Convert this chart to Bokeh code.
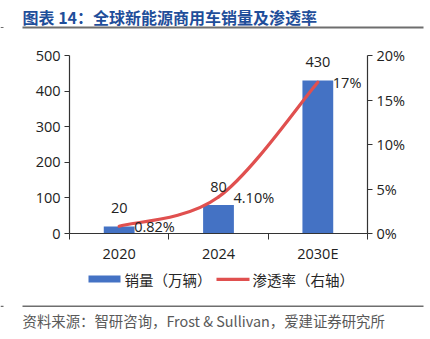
from bokeh.plotting import figure
from bokeh.models import (Range1d, LinearAxis, FixedTicker, PrintfTickFormatter,
                          ColumnDataSource)
from bokeh.core.properties import value
from bokeh.embed import file_html
from bokeh.resources import INLINE

# ---- data ----
categories = ["2020", "2024", "2030E"]
sales = [20, 80, 430]              # 万辆
penetration = [0.82, 4.10, 17.0]   # %
sales_labels = ["20", "80", "430"]
pen_labels = ["0.82%", "4.10%", "17%"]
left_ticks = [0, 100, 200, 300, 400, 500]
right_ticks = [0, 5, 10, 15, 20]
title_text = "图表 14：全球新能源商用车销量及渗透率"
source_text = "资料来源：智研咨询，Frost & Sullivan，爱建证券研究所"
legend_bar = "销量（万辆）"
legend_line = "渗透率（右轴）"

# ---- layout / style ----
W, H = 430, 339
PLOT_L, PLOT_R, PLOT_T, PLOT_B = 69, 367, 55, 233   # plot area in pixels
SALES_MAX, PCT_MAX = 500, 20
FONT = "Noto Sans CJK SC"
NUMFONT = "Open Sans"
BLUE = "#4472C4"
RED = "#E0504F"
AXIS = "#333333"
RULE = "#6E6E6E"

ncat = len(categories)
xs = [i + 0.5 for i in range(ncat)]


def span(lo_val, hi_val, lo_px, hi_px, full_px):
    """Range whose lo_val..hi_val falls on lo_px..hi_px of a 0..full_px frame."""
    k = (hi_val - lo_val) / (hi_px - lo_px)
    return Range1d(lo_val - lo_px * k, hi_val + (full_px - hi_px) * k)


# frame covers the whole canvas; axes are pinned with fixed_location
x_rng = span(0, ncat, PLOT_L, PLOT_R, W)
y_rng = span(0, SALES_MAX, H - PLOT_B, H - PLOT_T, H)
p = figure(width=W, height=H, output_backend="svg", toolbar_location=None,
           x_range=x_rng, y_range=y_rng, min_border=0,
           background_fill_color="white", border_fill_color="white",
           outline_line_color=None)
p.grid.visible = False
p.extra_y_ranges = {"pct": span(0, PCT_MAX, H - PLOT_B, H - PLOT_T, H),
                    "px": Range1d(H, 0)}
p.extra_x_ranges = {"px": Range1d(0, W)}

src = ColumnDataSource(dict(x=xs, sales=sales, pen=penetration,
                            sl=sales_labels, pl=pen_labels))

p.vbar(x="x", top="sales", width=0.31, source=src, fill_color=BLUE, line_color=None)

# smoothed line (Catmull-Rom -> Bezier) through the penetration points
pts = list(zip(xs, penetration))
x0s, y0s, x1s, y1s, cx0, cy0, cx1, cy1 = [], [], [], [], [], [], [], []
n = len(pts)
for i in range(n - 1):
    pm = pts[max(i - 1, 0)]
    pa = pts[i]
    pb = pts[i + 1]
    pn = pts[min(i + 2, n - 1)]
    x0s.append(pa[0]); y0s.append(pa[1]); x1s.append(pb[0]); y1s.append(pb[1])
    cx0.append(pa[0] + (pb[0] - pm[0]) / 6); cy0.append(pa[1] + (pb[1] - pm[1]) / 6)
    cx1.append(pb[0] - (pn[0] - pa[0]) / 6); cy1.append(pb[1] - (pn[1] - pa[1]) / 6)
p.bezier(x0=x0s, y0=y0s, x1=x1s, y1=y1s, cx0=cx0, cy0=cy0, cx1=cx1, cy1=cy1,
         y_range_name="pct", line_color=RED, line_width=3.2, line_cap="round")

p.text(x="x", y="sales", text="sl", source=src, text_align="center",
       text_baseline="middle", y_offset=-18, text_font=value(NUMFONT),
       text_font_size="14.5px", text_color="#222222")
p.text(x="x", y="pen", text="pl", source=src, y_range_name="pct",
       text_align="left", text_baseline="middle", x_offset=15, y_offset=0,
       text_font=value(NUMFONT), text_font_size="14.5px", text_color="#222222")


def style_axis(ax):
    ax.axis_line_color = AXIS
    ax.axis_line_width = 1.2
    ax.major_tick_line_color = AXIS
    ax.major_tick_in = 0
    ax.major_tick_out = 5
    ax.minor_tick_line_color = None
    ax.major_label_text_font = NUMFONT
    ax.major_label_text_font_size = "14.5px"
    ax.major_label_text_color = "#222222"
    ax.major_label_standoff = 4


yl = p.yaxis[0]
yl.ticker = FixedTicker(ticks=left_ticks)
yl.fixed_location = 0
yl.bounds = (0, SALES_MAX)
style_axis(yl)

yr = LinearAxis(y_range_name="pct", ticker=FixedTicker(ticks=right_ticks),
                formatter=PrintfTickFormatter(format="%d%%"),
                fixed_location=ncat, bounds=(0, PCT_MAX))
style_axis(yr)
p.add_layout(yr, "right")

xa = p.xaxis[0]
xa.ticker = FixedTicker(ticks=xs, minor_ticks=list(range(ncat + 1)))
xa.major_label_overrides = {x: c for x, c in zip(xs, categories)}
xa.fixed_location = 0
xa.bounds = (0, ncat)
style_axis(xa)
xa.major_tick_line_color = None
xa.major_tick_out = 0
xa.minor_tick_line_color = AXIS
xa.minor_tick_in = 0
xa.minor_tick_out = 6
xa.major_label_standoff = 4

# ---- title, rules, legend, source (pixel coordinates, y from the top) ----
PX = dict(x_range_name="px", y_range_name="px")
p.text(x=[22], y=[16], text=[title_text], text_font=value(FONT),
       text_font_size="16px", text_font_style="bold", text_color="#1F4E9A",
       text_baseline="middle", **PX)


# horizontal rules, drawn on the default ranges (pixel -> default data units)
def px_x(sx):
    k = (x_rng.end - x_rng.start) / W
    return x_rng.start + sx * k


def px_y(sy):
    k = (y_rng.end - y_rng.start) / H
    return y_rng.end - sy * k


for sy, lw in ((27, 2), (305.8, 1.4)):
    p.hbar(y=[px_y(sy)], left=[px_x(22)], right=[px_x(423)],
           height=lw * (y_rng.end - y_rng.start) / H,
           fill_color=RULE, line_color=None)
    p.quad(left=[0], right=[3], top=[sy - 0.6], bottom=[sy + 0.6],
           fill_color=RULE, line_color=None, **PX)

# legend
p.quad(left=[88], right=[120], top=[275], bottom=[282], fill_color=BLUE,
       line_color=None, **PX)
p.quad(left=[216], right=[249], top=[277.3], bottom=[280.5], fill_color=RED,
       line_color=None, **PX)
p.text(x=[124, 252], y=[278.5, 278.5], text=[legend_bar, legend_line],
       text_font=value(FONT), text_font_size="14.5px", text_color="#262626",
       text_baseline="middle", **PX)
p.text(x=[22], y=[320], text=[source_text], text_font=value(FONT),
       text_font_size="14.4px", text_color="#595959", text_baseline="middle", **PX)

open("out.html", "w").write(file_html(p, INLINE))
